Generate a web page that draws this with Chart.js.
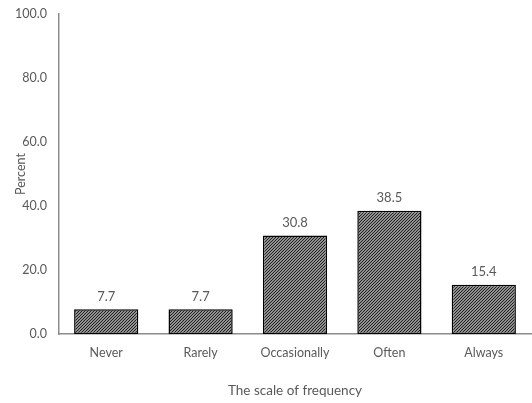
<!DOCTYPE html>
<html>
<head>
<meta charset="utf-8">
<script src="https://cdn.jsdelivr.net/npm/chart.js@4"></script>
<style>
    html, body { margin: 0; padding: 0; background: #fff; }
    #wrap { width: 532px; height: 403px; }
</style>
</head>
<body>
<div id="wrap"><canvas id="grafico"></canvas></div>
<script>
// Dados do gráfico
const categorias = ['Never', 'Rarely', 'Occasionally', 'Often', 'Always'];
const percentuais = [7.7, 7.7, 30.8, 38.5, 15.4];
const ticksY = [0, 20, 40, 60, 80, 100];

const corTexto = '#595959';
const corEixo = '#8c8c8c';

// Hachura diagonal densa para preencher as barras
function criarHachura() {
    const c = document.createElement('canvas');
    c.width = 3;
    c.height = 3;
    const g = c.getContext('2d');
    g.fillStyle = '#ffffff';
    g.fillRect(0, 0, 3, 3);
    g.strokeStyle = '#1e1e1e';
    g.lineWidth = 1.4;
    g.beginPath();
    g.moveTo(0, 3); g.lineTo(3, 0);
    g.moveTo(-1, 1); g.lineTo(1, -1);
    g.moveTo(2, 4); g.lineTo(4, 2);
    g.stroke();
    return g.createPattern(c, 'repeat');
}

// Escreve o valor acima de cada barra
const rotulosValores = {
    id: 'rotulosValores',
    afterDatasetsDraw(chart) {
        const ctx = chart.ctx;
        const meta = chart.getDatasetMeta(0);
        ctx.save();
        ctx.fillStyle = corTexto;
        ctx.font = '13px Lato';
        ctx.textAlign = 'center';
        ctx.textBaseline = 'middle';
        meta.data.forEach((barra, i) => {
            ctx.fillText(percentuais[i].toFixed(1), barra.x, barra.y - 13);
        });
        ctx.restore();
    }
};

const ctx = document.getElementById('grafico').getContext('2d');
new Chart(ctx, {
    type: 'bar',
    data: {
        labels: categorias,
        datasets: [{
            data: percentuais,
            backgroundColor: criarHachura(),
            borderColor: '#000000',
            borderWidth: 1.5,
            borderSkipped: false,
            categoryPercentage: 1,
            barPercentage: 0.68
        }]
    },
    options: {
        responsive: true,
        maintainAspectRatio: false,
        animation: false,
        layout: { padding: { top: 14, right: 1, left: 0, bottom: 0 } },
        plugins: {
            legend: { display: false },
            tooltip: { enabled: false }
        },
        scales: {
            x: {
                grid: { display: false, drawTicks: false },
                border: { display: true, color: corEixo, width: 1.5 },
                ticks: { color: corTexto, font: { family: 'Lato', size: 12.5 }, padding: 11 },
                title: {
                    display: true,
                    text: 'The scale of frequency',
                    color: corTexto,
                    font: { family: 'Lato', size: 13.5 },
                    padding: { top: 0, bottom: 4 }
                },
                afterFit: s => { s.height = 69; }
            },
            y: {
                min: 0,
                max: 100,
                afterBuildTicks: s => { s.ticks = ticksY.map(v => ({ value: v })); },
                grid: { display: false, drawTicks: false },
                border: { display: true, color: corEixo, width: 1.5 },
                ticks: {
                    color: corTexto,
                    font: { family: 'Lato', size: 12.5 },
                    padding: 12,
                    callback: v => Number(v).toFixed(1)
                },
                title: {
                    display: true,
                    text: 'Percent',
                    color: corTexto,
                    font: { family: 'Lato', size: 12.5 },
                    padding: { top: 13, bottom: 0 }
                },
                afterFit: s => {
                    s.width = 59;
                    s.paddingTop = 0;
                    s.paddingBottom = 0;
                }
            }
        }
    },
    plugins: [rotulosValores]
});
</script>
</body>
</html>
